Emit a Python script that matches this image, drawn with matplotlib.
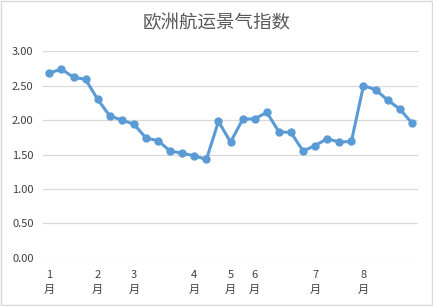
import matplotlib.pyplot as plt
from matplotlib.patches import Rectangle

plt.rcParams['font.family'] = ['Noto Sans CJK SC', 'DejaVu Sans']

# 周次数据
values = [2.68, 2.74, 2.62, 2.59, 2.30, 2.06, 2.00, 1.94, 1.74, 1.70,
          1.55, 1.52, 1.48, 1.43, 1.98, 1.68, 2.01, 2.02, 2.11, 1.83,
          1.82, 1.55, 1.63, 1.73, 1.68, 1.69, 2.50, 2.44, 2.29, 2.16, 1.96]
month_pos = [0, 4, 7, 12, 15, 17, 22, 26]
month_names = ["1\n月", "2\n月", "3\n月", "4\n月", "5\n月", "6\n月", "7\n月", "8\n月"]
y_ticks = [0.0, 0.5, 1.0, 1.5, 2.0, 2.5, 3.0]

fig = plt.figure(figsize=(4.33, 3.06), dpi=100)
fig.patches.append(Rectangle((0.002, 0.003), 0.995, 0.993, transform=fig.transFigure,
                             fill=False, edgecolor="#D9D9D9", linewidth=1))
ax = fig.add_axes([0.1, 0.157, 0.865, 0.676])

x = list(range(len(values)))
ax.plot(x, values, color="#5B9BD5", linewidth=2.2, marker="o", markersize=5,
        markerfacecolor="#5B9BD5", markeredgecolor="#5B9BD5", zorder=3)

ax.set_xlim(-0.5, len(values) - 0.5)
ax.set_ylim(0, 3)
ax.set_yticks(y_ticks)
ax.set_yticklabels([f"{v:.2f}" for v in y_ticks], fontsize=8, color="#404040")
ax.set_xticks(month_pos)
ax.set_xticklabels(month_names, fontsize=8, color="#404040", linespacing=1.6)
ax.tick_params(axis="both", length=0)
ax.tick_params(axis="y", pad=7)
ax.tick_params(axis="x", pad=9)
ax.grid(axis="y", color="#D9D9D9", linewidth=0.9)
ax.set_axisbelow(True)
for s in ax.spines.values():
    s.set_visible(False)

fig.suptitle("欧洲航运景气指数", x=0.5, y=0.955, fontsize=13.3, color="#595959")

fig.savefig("out.png", dpi=100)
